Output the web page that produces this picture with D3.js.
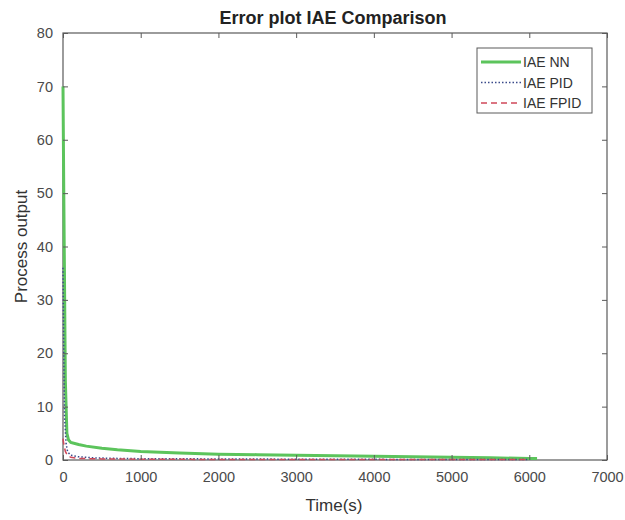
<!DOCTYPE html>
<html>
<head>
<meta charset="utf-8">
<script src="https://cdn.jsdelivr.net/npm/d3@7"></script>
<style>
  body { margin: 0; background: #fff; }
  svg text { font-family: "Liberation Sans", Arial, sans-serif; }
</style>
</head>
<body>
<div id="chart"></div>
<script>
// chart values
var timeNN = [0, 10, 30, 50, 70, 100, 200, 300, 500, 700, 1000, 1500, 2000, 2500, 3000, 3500, 4000, 4500, 5000, 5500, 6000, 6100]
var valuesNN = [70, 50, 15, 5, 3.8, 3.3, 2.9, 2.6, 2.2, 1.9, 1.6, 1.3, 1.1, 1.0, 0.9, 0.8, 0.7, 0.6, 0.5, 0.4, 0.3, 0.3]

var timePID = [0, 10, 20, 40, 60, 100, 200, 400, 700, 1000, 2000, 3000, 4000, 5000, 6000]
var valuesPID = [36, 20, 8, 3, 1.5, 0.9, 0.6, 0.4, 0.3, 0.25, 0.2, 0.15, 0.12, 0.1, 0.1]

var timeFPID = [0, 10, 30, 60, 100, 200, 500, 1000, 2000, 3000, 4000, 5000, 6000]
var valuesFPID = [4, 3, 1.6, 0.8, 0.5, 0.3, 0.2, 0.15, 0.1, 0.1, 0.08, 0.08, 0.08]

var xTicks = [0, 1000, 2000, 3000, 4000, 5000, 6000, 7000]
var yTicks = [0, 10, 20, 30, 40, 50, 60, 70, 80]
var seriesNames = ['IAE NN', 'IAE PID', 'IAE FPID']

var margin = { top: 33, left: 63, right: 18, bottom: 60 }
var width = 625 - margin.left - margin.right
var height = 520 - margin.top - margin.bottom
var axisColor = '#5a5a5a'

var svg = d3.select('#chart')
  .append('svg')
  .attr('width', 625)
  .attr('height', 520)

var g = svg.append('g')
  .attr('transform', 'translate(' + margin.left + ',' + margin.top + ')')

var xPositionScale = d3.scaleLinear().domain([0, 7000]).range([0, width])
var yPositionScale = d3.scaleLinear().domain([0, 80]).range([height, 0])

var line = d3.line()
  .x(function(d) { return xPositionScale(d[0]) })
  .y(function(d) { return yPositionScale(d[1]) })

var series = [
  { name: seriesNames[0], pts: d3.zip(timeNN, valuesNN), color: '#5cc45c', width: 3, dash: null },
  { name: seriesNames[1], pts: d3.zip(timePID, valuesPID), color: '#3a4a8a', width: 1.5, dash: '1.5,2' },
  { name: seriesNames[2], pts: d3.zip(timeFPID, valuesFPID), color: '#d0485a', width: 1.5, dash: '6,4' }
]

// box
g.append('rect')
  .attr('width', width)
  .attr('height', height)
  .attr('fill', 'none')
  .attr('stroke', axisColor)
  .attr('stroke-width', 1.2)

series.forEach(function(s) {
  g.append('path')
    .datum(s.pts)
    .attr('d', line)
    .attr('fill', 'none')
    .attr('stroke', s.color)
    .attr('stroke-width', s.width)
    .attr('stroke-dasharray', s.dash)
})

// axes, ticks inward
var xAxis = d3.axisBottom(xPositionScale).tickValues(xTicks).tickFormat(d3.format('d'))
  .tickSizeInner(-5).tickSizeOuter(0).tickPadding(12)
var yAxis = d3.axisLeft(yPositionScale).tickValues(yTicks).tickFormat(d3.format('d'))
  .tickSizeInner(-5).tickSizeOuter(0).tickPadding(10)

g.append('g')
  .attr('class', 'axis x-axis')
  .attr('transform', 'translate(0,' + height + ')')
  .call(xAxis)

g.append('g')
  .attr('class', 'axis y-axis')
  .call(yAxis)

// top and right ticks
g.append('g')
  .call(d3.axisTop(xPositionScale).tickValues(xTicks).tickSizeInner(-5).tickSizeOuter(0).tickFormat(''))
g.append('g')
  .attr('transform', 'translate(' + width + ',0)')
  .call(d3.axisRight(yPositionScale).tickValues(yTicks).tickSizeInner(-5).tickSizeOuter(0).tickFormat(''))

g.selectAll('.domain').remove()
g.selectAll('.tick line').attr('stroke', axisColor)
g.selectAll('.tick text')
  .attr('fill', '#4a4a4a')
  .style('font-size', '14.5px')

// titles
svg.append('text')
  .attr('x', 333)
  .attr('y', 24)
  .attr('text-anchor', 'middle')
  .style('font-size', '18px')
  .style('font-weight', 'bold')
  .attr('fill', '#222')
  .text('Error plot IAE Comparison')

svg.append('text')
  .attr('x', 334)
  .attr('y', 511)
  .attr('text-anchor', 'middle')
  .style('font-size', '17px')
  .attr('fill', '#333')
  .text('Time(s)')

svg.append('text')
  .attr('transform', 'translate(27,' + (margin.top + height / 2) + ') rotate(-90)')
  .attr('text-anchor', 'middle')
  .style('font-size', '17px')
  .attr('fill', '#333')
  .text('Process output')

// legend
var legend = svg.append('g').attr('transform', 'translate(477,48)')
legend.append('rect')
  .attr('width', 115)
  .attr('height', 65)
  .attr('fill', '#fff')
  .attr('stroke', axisColor)

series.forEach(function(s, i) {
  var y = 14 + i * 20.5
  legend.append('line')
    .attr('x1', 4).attr('x2', 44)
    .attr('y1', y).attr('y2', y)
    .attr('stroke', s.color)
    .attr('stroke-width', s.width)
    .attr('stroke-dasharray', s.dash)
  legend.append('text')
    .attr('x', 46)
    .attr('y', y + 5)
    .style('font-size', '14px')
    .attr('fill', '#333')
    .text(s.name)
})
</script>
</body>
</html>
